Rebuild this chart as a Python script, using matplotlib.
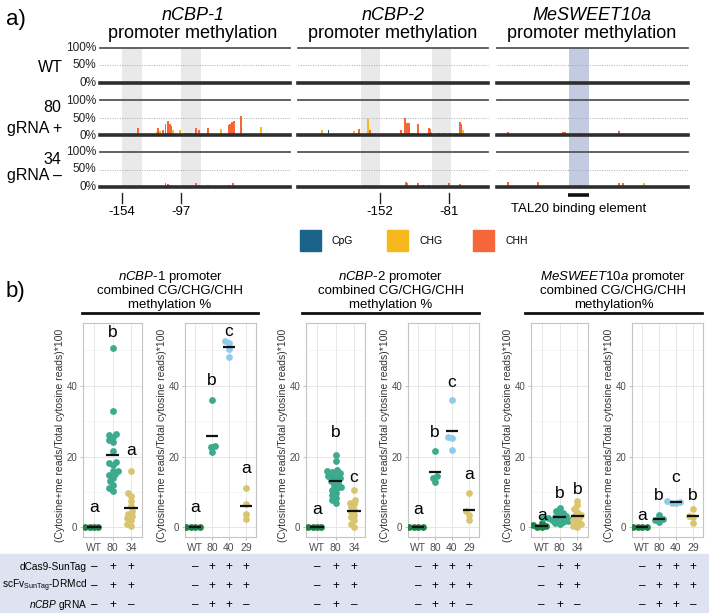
import numpy as np
import matplotlib
matplotlib.use("Agg")
import matplotlib.pyplot as plt

FONT = "Liberation Sans"
plt.rcParams['font.family'] = [FONT, 'DejaVu Sans']
plt.rcParams['mathtext.fontset'] = 'custom'
plt.rcParams['mathtext.rm'] = FONT
plt.rcParams['mathtext.it'] = FONT + ':italic'
plt.rcParams['mathtext.bf'] = FONT + ':bold'
plt.rcParams['mathtext.sf'] = FONT

W, H = 709, 613

# ---------------- data: panel a (methylation tracks) ----------------
ctx_names = ['CpG', 'CHG', 'CHH']
ctx_colors = {'CpG': '#1b6388', 'CHG': '#f7b81c', 'CHH': '#f5673a'}
row_labels = ['WT', '80\ngRNA +', '34\ngRNA \u2013']
pct_ticks = ['100%', '50%', '0%']

genes_a = ['nCBP-1', 'nCBP-2', 'MeSWEET10a']
gene_xlim = {'nCBP-1': (-175.3, 8.3), 'nCBP-2': (-236.4, -40.9), 'MeSWEET10a': (0, 191)}
gene_bands = {'nCBP-1': [(-154, -135), (-97, -78)],
              'nCBP-2': [(-172, -152), (-99, -79)],
              'MeSWEET10a': [(72, 92)]}
gene_ticks = {'nCBP-1': [-154, -97], 'nCBP-2': [-152, -81], 'MeSWEET10a': []}
tal20_span = (71, 92)

# (position, context, % methylation) per gene and row
nc1_wt = []
nc1_80 = [(-154, 'CpG', 2), (-139, 'CHH', 21), (-120, 'CHG', 9), (-119, 'CHH', 21),
          (-117, 'CHG', 11), (-114, 'CHH', 14), (-112, 'CHH', 32), (-110, 'CHH', 39),
          (-108, 'CHH', 32), (-107, 'CHH', 26), (-105, 'CHG', 14), (-98, 'CHG', 14),
          (-93, 'CHH', 7), (-91, 'CHG', 6), (-88, 'CHH', 5), (-83, 'CHH', 21),
          (-80, 'CHH', 13), (-71, 'CHH', 19), (-66, 'CHH', 3), (-58, 'CHG', 17),
          (-51, 'CHH', 28), (-50, 'CHH', 32), (-48, 'CHH', 37), (-46, 'CHH', 39),
          (-39, 'CHH', 54), (-20, 'CHG', 22)]
nc1_34 = [(-139, 'CHH', 2), (-120, 'CHH', 2), (-112, 'CHH', 11), (-110, 'CHH', 9),
          (-108, 'CHH', 7), (-107, 'CHH', 5), (-83, 'CHH', 12), (-80, 'CHH', 5),
          (-71, 'CHH', 5), (-51, 'CHH', 7), (-47, 'CHH', 12)]
nc2_wt = [(-181, 'CpG', 2)]
nc2_80 = [(-212, 'CHG', 14), (-205, 'CpG', 14), (-179, 'CHG', 12), (-174, 'CHH', 18),
          (-164, 'CHG', 47), (-162, 'CHH', 14), (-130, 'CHH', 14), (-126, 'CHH', 50),
          (-124, 'CHH', 35), (-122, 'CHH', 33), (-119, 'CHH', 7), (-113, 'CHH', 30),
          (-102, 'CHH', 19), (-101, 'CHH', 16), (-99, 'CHG', 9), (-91, 'CHH', 5),
          (-86, 'CHH', 5), (-80, 'CHH', 7), (-70, 'CHH', 38), (-69, 'CHH', 30),
          (-67, 'CHG', 13)]
nc2_34 = [(-174, 'CHH', 3), (-162, 'CHH', 3), (-125, 'CHH', 15), (-124, 'CHH', 12),
          (-113, 'CHH', 12), (-108, 'CpG', 7), (-102, 'CHH', 5), (-87, 'CHH', 7),
          (-81, 'CHH', 12), (-70, 'CHH', 9)]
sw_wt = []
sw_80 = [(11, 'CHH', 8), (41, 'CHH', 4), (65, 'CHH', 5), (66, 'CHH', 9), (68, 'CHH', 9),
         (83, 'CHH', 7), (88, 'CHH', 4), (93, 'CHH', 3), (122, 'CHH', 10), (125, 'CHH', 4)]
sw_34 = [(11, 'CHH', 13), (41, 'CHH', 13), (66, 'CHH', 4), (83, 'CHH', 7),
         (122, 'CHH', 12), (126, 'CHH', 12), (147, 'CHG', 12)]
tracks = {'nCBP-1': [nc1_wt, nc1_80, nc1_34],
          'nCBP-2': [nc2_wt, nc2_80, nc2_34],
          'MeSWEET10a': [sw_wt, sw_80, sw_34]}

# ---------------- data: panel b (combined methylation %) ----------------
panel_cats = [['WT', '80', '34'], ['WT', '80', '40', '29'],
              ['WT', '80', '34'], ['WT', '80', '40', '29'],
              ['WT', '80', '34'], ['WT', '80', '40', '29']]
panel_vals = [
    [[0.0, 0.1, 0.0, 0.2],
     [50.8, 33.0, 26.5, 26.2, 25.6, 24.6, 24.0, 21.5, 18.4, 18.3, 17.5, 16.0, 15.8,
      15.0, 14.9, 14.0, 13.0, 12.0, 11.0, 10.2],
     [15.9, 9.8, 8.8, 7.5, 6.0, 4.5, 3.8, 3.2, 2.5, 2.0, 1.0, 0.3]],
    [[0.0, 0.1, 0.0, 0.05],
     [35.9, 22.9, 22.6, 21.4],
     [52.8, 52.1, 50.5, 48.0],
     [11.2, 6.5, 3.8, 2.3]],
    [[0.0, 0.1, 0.0, 0.05],
     [20.4, 18.6, 16.2, 15.9, 15.6, 15.3, 15.0, 14.6, 14.3, 14.0, 13.6, 13.0, 12.5,
      12.0, 11.5, 11.0, 10.4, 9.8, 9.0, 8.3, 7.6, 7.0],
     [10.4, 7.7, 7.0, 6.5, 5.6, 4.8, 4.2, 3.5, 2.8, 2.0, 1.0, 0.2]],
    [[0.0, 0.1, 0.0, 0.05],
     [21.5, 14.5, 13.9, 12.8],
     [36.0, 25.4, 25.2, 21.9],
     [9.8, 4.5, 3.5, 2.1]],
    [[1.3, 0.6, 0.3, 0.1, 0.0],
     [5.5, 4.6, 4.0, 3.6, 3.3, 3.1, 3.0, 2.8, 2.7, 2.5, 2.4, 2.2, 2.0, 1.8, 1.6, 1.3, 1.0],
     [7.5, 6.2, 5.2, 4.4, 3.6, 3.0, 2.5, 2.0, 1.5, 1.0, 0.5, 0.2]],
    [[0.0, 0.1, 0.0, 0.05],
     [3.6, 2.2, 2.0, 1.5],
     [7.3, 7.1, 7.0, 6.8],
     [5.3, 3.2, 2.8, 1.2]],
]
panel_letters = [['a', 'b', 'a'], ['a', 'b', 'c', 'a'], ['a', 'b', 'c'],
                 ['a', 'b', 'c', 'a'], ['a', 'b', 'b'], ['a', 'b', 'c', 'b']]
panel_letter_y = [[5.6, 55.0, 21.8], [5.6, 41.4, 55.3, 16.6], [5.0, 26.7, 14.2],
                  [5.0, 26.7, 41.0, 15.0], [3.2, 9.6, 10.6], [3.2, 8.9, 14.0, 8.9]]
group_titles = [('$\\mathit{nCBP}$-$\\mathit{1}$ promoter', 'methylation %'),
                ('$\\mathit{nCBP}$-$\\mathit{2}$ promoter', 'methylation %'),
                ('$\\mathit{MeSWEET10a}$ promoter', 'methylation%')]
cat_colors = {'WT': '#1f8048', '80': '#3eaa8d', '40': '#8fcbea', '34': '#d9c570', '29': '#d9c570'}

table_rows = ['dCas9-SunTag', 'scFv$_{\\mathrm{SunTag}}$-DRMcd', '$\\mathit{nCBP}$ gRNA']
table_marks = [
    [['\u2013', '+', '+'], ['\u2013', '+', '+'], ['\u2013', '+', '\u2013']],
    [['\u2013', '+', '+', '+'], ['\u2013', '+', '+', '+'], ['\u2013', '+', '+', '\u2013']],
    [['\u2013', '+', '+'], ['\u2013', '+', '+'], ['\u2013', '+', '\u2013']],
    [['\u2013', '+', '+', '+'], ['\u2013', '+', '+', '+'], ['\u2013', '+', '+', '\u2013']],
    [['\u2013', '+', '+'], ['\u2013', '+', '+'], ['\u2013', '+', '\u2013']],
    [['\u2013', '+', '+', '+'], ['\u2013', '+', '+', '+'], ['\u2013', '+', '+', '\u2013']],
]
ylab_b = '(Cytosine+me reads/Total cytosine reads)*100'

# ---------------- layout helpers (pixel based) ----------------
fig = plt.figure(figsize=(W / 100, H / 100), dpi=100)


def rect(x0, y0, x1, y1):
    return [x0 / W, 1 - y1 / H, (x1 - x0) / W, (y1 - y0) / H]


def ftext(x, y, s, **kw):
    return fig.text(x / W, 1 - y / H, s, **kw)


# ---------------- panel a ----------------
ftext(6, 20, 'a)', fontsize=16, va='center', ha='left')
a_x = {'nCBP-1': (100, 290), 'nCBP-2': (298, 488), 'MeSWEET10a': (497, 688)}
a_title_x = {'nCBP-1': 193, 'nCBP-2': 393, 'MeSWEET10a': 592}
top_px, bot_px = 48, 187
S = 148.6  # row spacing in % units
row_base = [0, -S, -2 * S]

for g in genes_a:
    x0, x1 = a_x[g]
    ax = fig.add_axes(rect(x0, top_px, x1, bot_px))
    ax.set_xlim(*gene_xlim[g])
    ax.set_ylim(-2 * S, 100)
    ax.axis('off')
    band_col = '#e9e9e9' if g != 'MeSWEET10a' else '#c3cbe2'
    for lo, hi in gene_bands[g]:
        ax.axvspan(lo, hi, color=band_col, zorder=0, lw=0)
    for r in range(3):
        b = row_base[r]
        ax.axhline(b + 100, color='#555555', lw=1.3, zorder=1, clip_on=False)
        ax.axhline(b + 50, color='#aaaaaa', lw=0.7, ls=(0, (1, 1.5)), zorder=1, clip_on=False)
        ax.axhline(b, color='#2e2e2e', lw=2.6, zorder=3, clip_on=False)
        recs = tracks[g][r]
        if recs:
            pos = [p for p, c, v in recs]
            val = [v for p, c, v in recs]
            col = [ctx_colors[c] for p, c, v in recs]
            ax.bar(pos, val, bottom=b, width=1.9, color=col, lw=0, zorder=2)
    ftext(a_title_x[g], 16, g, fontsize=13, style='italic', ha='center', va='center')
    ftext(a_title_x[g], 34, 'promoter methylation', fontsize=13, ha='center', va='center')
    for t in gene_ticks[g]:
        ax.plot([t, t], [-2 * S - 18, -2 * S - 46], color='#222222', lw=1, clip_on=False)
        ax.text(t, -2 * S - 72, str(t), fontsize=9.5, ha='center', va='center')
    if g == 'MeSWEET10a':
        ax.plot(tal20_span, [-2 * S - 24] * 2, color='#111111', lw=2.6, clip_on=False,
                solid_capstyle='butt')
        ax.text(np.mean(tal20_span), -2 * S - 64, 'TAL20 binding element', fontsize=9.5,
                ha='center', va='center')

row_zero_px = [83, 136, 187]
for r in range(3):
    z = row_zero_px[r]
    for k, lab in enumerate(pct_ticks):
        ftext(96, z - 35 + k * 17.5, lab, fontsize=8.5, ha='right', va='center', color='#222222')
ftext(63, 67, row_labels[0], fontsize=11.5, ha='right', va='center')
ftext(61, 108, '80', fontsize=11.5, ha='right', va='center')
ftext(62, 128, 'gRNA +', fontsize=11.5, ha='right', va='center')
ftext(61, 160, '34', fontsize=11.5, ha='right', va='center')
ftext(62, 176, 'gRNA \u2013', fontsize=11.5, ha='right', va='center')

# legend
leg_x = [300, 387, 473]
for cx, name in zip(leg_x, ctx_names):
    fig.patches.append(plt.Rectangle((cx / W, 1 - 251 / H), 21 / W, 21 / H,
                                     transform=fig.transFigure, color=ctx_colors[name]))
    ftext(cx + 32, 241, name, fontsize=7.5, ha='left', va='center')

# ---------------- panel b ----------------
ftext(6, 291, 'b)', fontsize=16, va='center', ha='left')
panel_x = [(83, 142), (185, 256), (306, 365), (408, 479), (531, 588), (632, 703)]
p_top, p_bot = 323, 537
ylim_b = (-2.75, 57.75)
group_x = [(82, 258), (302, 479), (525, 702)]
for gi, (gx0, gx1) in enumerate(group_x):
    cx = (gx0 + gx1) / 2
    ftext(cx, 277, group_titles[gi][0], fontsize=9.5, ha='center', va='center')
    ftext(cx, 291, 'combined CG/CHG/CHH', fontsize=9.5, ha='center', va='center')
    ftext(cx, 305, group_titles[gi][1], fontsize=9.5, ha='center', va='center')
    fig.add_artist(plt.Line2D([gx0 / W, gx1 / W], [1 - 313 / H] * 2, color='#111111', lw=2))

# table background
fig.patches.append(plt.Rectangle((0, 0), 1, (H - 554) / H, transform=fig.transFigure,
                                 color='#dde3f1', zorder=0))
table_y = [567, 586, 605]
for k, lab in enumerate(table_rows):
    ftext(87, table_y[k], lab, fontsize=7.3, ha='right', va='center')


def swarm(vals, ypu, xpu, d):
    vals = np.asarray(vals, float)
    order = np.argsort(vals, kind='stable')
    placed = []
    off = np.zeros(len(vals))
    for i in order:
        y = vals[i] * ypu
        cands = [0.0]
        for py, px in placed:
            dy = y - py
            if abs(dy) < d:
                dx = np.sqrt(d * d - dy * dy)
                cands += [px + dx, px - dx]
        cands = sorted(cands, key=lambda c: (abs(c), c))
        for c in cands:
            if all((c - px) ** 2 + (y - py) ** 2 >= d * d - 1e-6 for py, px in placed):
                off[i] = c
                placed.append((y, c))
                break
    return off / xpu


for pi, (x0, x1) in enumerate(panel_x):
    cats = panel_cats[pi]
    n = len(cats)
    ax = fig.add_axes(rect(x0, p_top, x1, p_bot))
    ax.set_xlim(0.4, n + 0.6)
    ax.set_ylim(*ylim_b)
    xpu = (x1 - x0) / (n + 0.2)
    ypu = (p_bot - p_top) / (ylim_b[1] - ylim_b[0])
    ax.set_yticks([0, 20, 40])
    ax.set_yticks([10, 30, 50], minor=True)
    ax.set_xticks(range(1, n + 1))
    ax.set_xticklabels(cats)
    ax.grid(True, which='major', color='#e6e6e6', lw=0.7)
    ax.grid(True, which='minor', axis='y', color='#efefef', lw=0.4)
    ax.set_axisbelow(True)
    ax.tick_params(axis='both', which='major', length=2.5, width=0.6, color='#b5b5b5',
                   labelsize=7.5, labelcolor='#4d4d4d', pad=1.5)
    ax.tick_params(axis='y', which='minor', length=0)
    ax.tick_params(axis='y', labelsize=7)
    for sp in ax.spines.values():
        sp.set_color('#c4c4c4')
        sp.set_linewidth(0.8)
    for ci, cat in enumerate(cats):
        v = np.asarray(panel_vals[pi][ci])
        xs = ci + 1 + swarm(v, ypu, xpu, 4.4)
        ax.scatter(xs, v, s=24, color=cat_colors[cat], lw=0, zorder=3)
        m = v.mean()
        ax.plot([ci + 1 - 0.36, ci + 1 + 0.36], [m, m], color='#111111', lw=1.6, zorder=4,
                solid_capstyle='butt')
        ax.text(ci + 1, panel_letter_y[pi][ci], panel_letters[pi][ci], fontsize=12.5,
                ha='center', va='center', zorder=5)
        for k in range(3):
            ftext(x0 + (ci + 0.6) * xpu, table_y[k], table_marks[pi][k][ci], fontsize=8.5,
                  ha='center', va='center')
    ftext(x0 - 23, (p_top + p_bot) / 2 + 5, ylab_b, fontsize=7.5, rotation=90,
          ha='center', va='center', color='#333333')

fig.savefig('out.png', dpi=100)
